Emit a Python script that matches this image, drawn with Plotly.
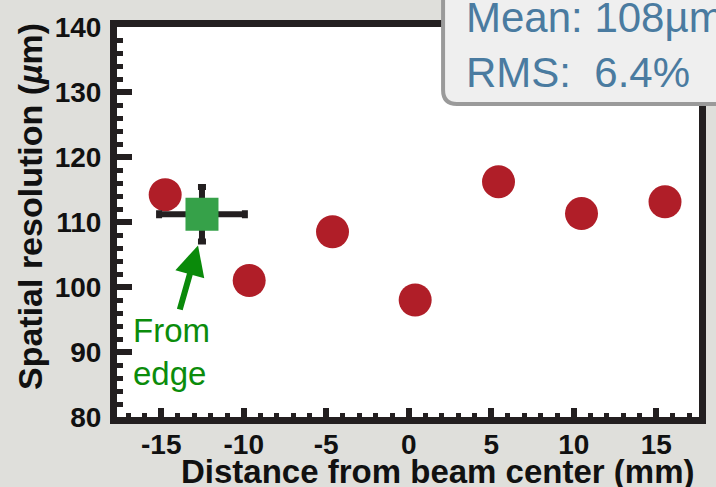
import plotly.graph_objects as go

# Data
dist_mm = [-14.76, -9.67, -4.62, 0.39, 5.44, 10.47, 15.53]
resolution_um = [114.2, 101.0, 108.5, 98.0, 116.2, 111.3, 113.1]
edge_x = [-12.53]
edge_y = [111.2]
edge_xerr = [2.6]
edge_yerr = [4.2]
x_ticks = [-15, -10, -5, 0, 5, 10, 15]
x_ticklabels = ["-15", "-10", "-5", "0", "5", "10", "15"]
y_ticks = [80, 90, 100, 110, 120, 130, 140]
y_ticklabels = ["80", "90", "100", "110", "120", "130", "140"]
stats_text = "Mean: 108µm<br>RMS:  6.4%"

W, H = 716, 487
L, R, T, B = 117, 10, 27, 70
XR = [-17.68, 17.59]
YR = [80, 140]
pw, ph = W - L - R, H - T - B
FONT = "Liberation Sans, Arial, sans-serif"


def px2paper(px, py):
    return (px - L) / pw, (H - B - py) / ph


fig = go.Figure()
fig.add_trace(go.Scatter(
    x=dist_mm, y=resolution_um, mode="markers",
    marker=dict(size=33, color="#b01e28", line=dict(width=0)),
    showlegend=False, cliponaxis=False))
fig.add_trace(go.Scatter(
    x=edge_x, y=edge_y, mode="markers",
    marker=dict(size=33, symbol="square", color="#36a149", line=dict(width=0)),
    error_x=dict(type="data", array=edge_xerr, color="#231f20", thickness=6, width=4),
    error_y=dict(type="data", array=edge_yerr, color="#231f20", thickness=6, width=4),
    showlegend=False))

axis_common = dict(
    showline=True, linewidth=7, linecolor="#231f20", mirror=True,
    ticks="inside", tickwidth=6, tickcolor="#231f20",
    showgrid=False, zeroline=False,
    tickfont=dict(family=FONT, size=28, color="#111111", weight="bold"),
)

fig.update_xaxes(
    range=XR, tickmode="array", tickvals=x_ticks, ticktext=x_ticklabels, ticklen=9,
    ticklabelstandoff=-4,
    minor=dict(ticks="inside", dtick=1, ticklen=4, tickwidth=5, tickcolor="#231f20", showgrid=False),
    **axis_common)
fig.update_yaxes(
    range=YR, tickmode="array", tickvals=y_ticks, ticktext=y_ticklabels, ticklen=15,
    ticklabelstandoff=3,
    minor=dict(ticks="inside", dtick=2, ticklen=6, tickwidth=5, tickcolor="#231f20", showgrid=False),
    **axis_common)

# Axis titles as annotations for exact placement
xtx, xty = px2paper(441, 471)
fig.add_annotation(text="Distance from beam center (mm)", xref="paper", yref="paper",
                   x=xtx, y=xty, xanchor="center", yanchor="middle", showarrow=False,
                   font=dict(family=FONT, size=33, color="#111111", weight="bold"))
ytx, yty = px2paper(29, 207)
fig.add_annotation(text="Spatial resolution (<i>µ</i>m)", xref="paper", yref="paper",
                   x=ytx, y=yty, xanchor="center", yanchor="middle", showarrow=False,
                   textangle=-90,
                   font=dict(family=FONT, size=34, color="#111111", weight="bold"))

# Stats box with rounded bottom-left corner (extends past the page edge)
r = 14
bx0, by0, bx1, by1 = 447, -30, 760, 104
pts = [(bx0, by0), (bx0, by1 - r), (bx0, by1), (bx0 + r, by1), (bx1, by1), (bx1, by0)]
pp = [px2paper(*p) for p in pts]
path = (f"M {pp[0][0]},{pp[0][1]} L {pp[1][0]},{pp[1][1]} "
        f"Q {pp[2][0]},{pp[2][1]} {pp[3][0]},{pp[3][1]} "
        f"L {pp[4][0]},{pp[4][1]} L {pp[5][0]},{pp[5][1]} Z")
fig.add_shape(type="path", path=path, xref="paper", yref="paper",
              fillcolor="#efefef", line=dict(color="#9a9a9a", width=4), layer="above")
tx, ty = px2paper(468, 45)
fig.add_annotation(text=stats_text, xref="paper", yref="paper", x=tx, y=ty,
                   xanchor="left", yanchor="middle", showarrow=False, align="left",
                   font=dict(family=FONT, size=42, color="#4a7ba0"))

# "From edge" label and arrow
fig.add_annotation(text="", x=-12.77, y=106.4, ax=-13.9, ay=96.3,
                   xref="x", yref="y", axref="x", ayref="y",
                   showarrow=True, arrowhead=2, arrowsize=1.0, arrowwidth=6,
                   arrowcolor="#0a8a0a", standoff=0)
lx, ly = px2paper(131, 352)
fig.add_annotation(text="From<br>edge", xref="paper", yref="paper", x=lx, y=ly,
                   xanchor="left", yanchor="middle", showarrow=False, align="left",
                   font=dict(family=FONT, size=33, color="#0b8c0b"))

fig.update_layout(
    width=W, height=H,
    margin=dict(l=L, r=R, t=T, b=B),
    paper_bgcolor="#dfdfdb", plot_bgcolor="#ffffff",
)

fig.write_html("out.html")
